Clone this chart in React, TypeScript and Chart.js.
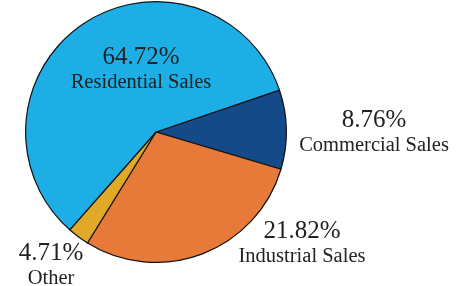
import React, { useEffect, useRef } from "react";
import { Chart, registerables } from "chart.js";

Chart.register(...registerables);

const categories = ["Commercial Sales", "Industrial Sales", "Other", "Residential Sales"];
// slice sizes as drawn in the picture (angles measured)
const drawnShares = [9.8, 29.2, 2.7, 58.3];
// percentages printed on the labels
const labelPercents = ["8.76%", "21.82%", "4.71%", "64.72%"];
const labelNames = ["Commercial Sales", "Industrial Sales", "Other", "Residential Sales"];
const colors = ["#134A87", "#E77A38", "#E0AA28", "#1EAEE6"];
// label anchor positions (center x, baseline y of percent line) in canvas pixels
const labelX = [374, 302, 51, 141];
const labelY = [126.5, 237.5, 259.5, 64];

const labelPlugin = {
  id: "sliceLabels",
  afterDraw(chart: any) {
    const ctx = chart.ctx;
    ctx.save();
    ctx.fillStyle = "#222222";
    ctx.textAlign = "center";
    ctx.textBaseline = "alphabetic";
    for (let i = 0; i < labelPercents.length; i++) {
      ctx.font = "25px 'Liberation Serif', serif";
      ctx.fillText(labelPercents[i], labelX[i], labelY[i]);
      ctx.font = "20.5px 'Liberation Serif', serif";
      ctx.fillText(labelNames[i], labelX[i], labelY[i] + 24);
    }
    ctx.restore();
  },
};

export default function App() {
  const ref = useRef<HTMLCanvasElement>(null);
  useEffect(() => {
    document.body.style.margin = "0";
    const chart = new Chart(ref.current!, {
      type: "pie",
      data: {
        labels: categories,
        datasets: [
          {
            data: drawnShares,
            backgroundColor: colors,
            borderColor: "#111111",
            borderWidth: 1.2,
          },
        ],
      },
      options: {
        responsive: false,
        animation: false,
        rotation: 71.3,
        layout: { padding: { left: 25, right: 173, top: 1, bottom: 23 } },
        plugins: {
          legend: { display: false },
          tooltip: { enabled: false },
        },
      },
      plugins: [labelPlugin],
    });
    return () => chart.destroy();
  }, []);
  return (
    <div style={{ position: "absolute", left: 0, top: 0, width: 460, height: 286, background: "#fff" }}>
      <canvas ref={ref} width={460} height={286} />
    </div>
  );
}
